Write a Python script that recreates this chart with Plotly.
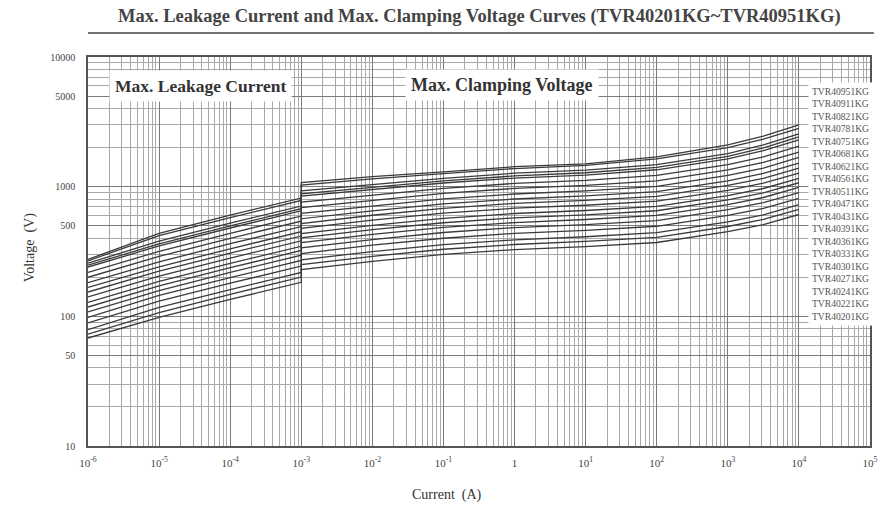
import plotly.graph_objects as go

# ---- data ----
leak_current = [1e-6, 1e-5, 1e-4, 1e-3]
clamp_current = [1e-3, 1e-2, 1e-1, 1, 10, 100, 1000, 3162, 1e4]

models = ["TVR40951KG", "TVR40911KG", "TVR40821KG", "TVR40781KG", "TVR40751KG",
          "TVR40681KG", "TVR40621KG", "TVR40561KG", "TVR40511KG", "TVR40471KG",
          "TVR40431KG", "TVR40391KG", "TVR40361KG", "TVR40331KG", "TVR40301KG",
          "TVR40271KG", "TVR40241KG", "TVR40221KG", "TVR40201KG"]

leak_voltage = {
    "TVR40951KG": [275, 437, 603, 817],
    "TVR40911KG": [268, 420, 578, 783],
    "TVR40821KG": [257, 380, 523, 709],
    "TVR40781KG": [248, 362, 499, 676],
    "TVR40751KG": [240, 349, 480, 651],
    "TVR40681KG": [218, 317, 437, 593],
    "TVR40621KG": [200, 290, 400, 542],
    "TVR40561KG": [182, 263, 363, 492],
    "TVR40511KG": [167, 241, 332, 450],
    "TVR40471KG": [154, 223, 307, 416],
    "TVR40431KG": [141, 204, 281, 382],
    "TVR40391KG": [128, 186, 256, 347],
    "TVR40361KG": [118, 172, 237, 322],
    "TVR40331KG": [108, 158, 218, 296],
    "TVR40301KG": [98, 145, 199, 270],
    "TVR40271KG": [89, 131, 180, 244],
    "TVR40241KG": [79, 117, 161, 218],
    "TVR40221KG": [73, 107, 148, 201],
    "TVR40201KG": [68, 98, 135, 183],
}

clamp_voltage = {
    "TVR40951KG": [1075, 1194, 1300, 1425, 1500, 1700, 2100, 2450, 3000],
    "TVR40911KG": [1030, 1150, 1260, 1380, 1460, 1640, 2000, 2330, 2820],
    "TVR40821KG": [930, 1040, 1160, 1270, 1340, 1480, 1800, 2100, 2550],
    "TVR40781KG": [880, 990, 1110, 1210, 1280, 1410, 1710, 1990, 2420],
    "TVR40751KG": [845, 950, 1067, 1163, 1227, 1350, 1640, 1900, 2300],
    "TVR40681KG": [760, 858, 971, 1059, 1117, 1220, 1480, 1700, 2050],
    "TVR40621KG": [690, 785, 889, 969, 1022, 1110, 1350, 1540, 1850],
    "TVR40561KG": [622, 712, 806, 878, 927, 1005, 1220, 1390, 1680],
    "TVR40511KG": [566, 651, 737, 803, 848, 915, 1110, 1265, 1520],
    "TVR40471KG": [520, 602, 681, 743, 784, 843, 1022, 1160, 1390],
    "TVR40431KG": [477, 553, 626, 682, 719, 774, 938, 1063, 1272],
    "TVR40391KG": [435, 503, 569, 621, 655, 704, 854, 968, 1158],
    "TVR40361KG": [403, 466, 527, 575, 607, 652, 791, 897, 1072],
    "TVR40331KG": [370, 428, 485, 529, 558, 600, 728, 825, 986],
    "TVR40301KG": [338, 391, 443, 483, 509, 548, 664, 753, 900],
    "TVR40271KG": [305, 354, 400, 436, 460, 495, 600, 680, 814],
    "TVR40241KG": [273, 316, 357, 389, 411, 442, 536, 607, 727],
    "TVR40221KG": [251, 290, 329, 358, 378, 407, 493, 559, 669],
    "TVR40201KG": [229, 265, 300, 327, 345, 371, 450, 510, 610],
}

x_tickvals = [1e-6, 1e-5, 1e-4, 1e-3, 1e-2, 1e-1, 1, 10, 100, 1000, 1e4, 1e5]
x_ticktext = ["10<sup>-6</sup>", "10<sup>-5</sup>", "10<sup>-4</sup>", "10<sup>-3</sup>",
              "10<sup>-2</sup>", "10<sup>-1</sup>", "1", "10<sup>1</sup>", "10<sup>2</sup>",
              "10<sup>3</sup>", "10<sup>4</sup>", "10<sup>5</sup>"]
y_tickvals = [10, 50, 100, 500, 1000, 5000, 10000]
y_ticktext = ["10", "50", "100", "500", "1000", "5000", "10000"]

title_text = "Max. Leakage Current and Max. Clamping Voltage Curves (TVR40201KG~TVR40951KG)"

# ---- figure ----
SERIF = "Liberation Serif"
fig = go.Figure()

for m in models:
    xs = leak_current + clamp_current
    ys = leak_voltage[m] + clamp_voltage[m]
    fig.add_trace(go.Scatter(x=xs, y=ys, mode="lines", name=m,
                             line=dict(color="#3a3a3a", width=1.3),
                             showlegend=False, hoverinfo="name+x+y"))

x_minor = [k * 10.0 ** e for e in range(-6, 5) for k in range(2, 10)]
y_minor = [k * 10.0 ** e for e in range(1, 4) for k in range(2, 10)]

fig.update_xaxes(type="log", range=[-6, 5], tickvals=x_tickvals, ticktext=x_ticktext,
                 showgrid=True, gridcolor="#7a7a7a", gridwidth=1,
                 minor=dict(tickvals=x_minor, showgrid=True, gridcolor="#a8a8a8",
                            gridwidth=1, ticks=""),
                 showline=True, linecolor="#555", linewidth=1.5, mirror=True,
                 ticks="", ticklabelstandoff=6, ticklabeloverflow="allow",
                 automargin=False,
                 tickfont=dict(family=SERIF, size=11, color="#444"),
                 zeroline=False)
fig.update_yaxes(type="log", range=[1, 4], tickvals=y_tickvals, ticktext=y_ticktext,
                 showgrid=True, gridcolor="#7a7a7a", gridwidth=1,
                 minor=dict(tickvals=y_minor, showgrid=True, gridcolor="#a8a8a8",
                            gridwidth=1, ticks=""),
                 showline=True, linecolor="#555", linewidth=1.5, mirror=True,
                 ticks="", ticklabelstandoff=9, automargin=False,
                 tickfont=dict(family=SERIF, size=10, color="#444"),
                 zeroline=False)

annotations = [
    dict(text="<b>Max. Leakage Current</b>", xref="paper", yref="paper", x=0.1445, y=0.925,
         xanchor="center", yanchor="middle",
         showarrow=False, bgcolor="white", borderpad=5,
         font=dict(family=SERIF, size=17.5, color="#333")),
    dict(text="<b>Max. Clamping Voltage</b>", xref="paper", yref="paper", x=0.529, y=0.928,
         xanchor="center", yanchor="middle",
         showarrow=False, bgcolor="white", borderpad=5,
         font=dict(family=SERIF, size=18, color="#333")),
    dict(text="<br>".join(models), xref="paper", yref="paper", x=0.962, y=0.622,
         xanchor="center", yanchor="middle",
         showarrow=False, bgcolor="white", borderpad=3, align="left",
         font=dict(family=SERIF, size=9.6, color="#555")),
    dict(text="Current  (A)", xref="paper", yref="paper", x=0.459, y=-0.126,
         xanchor="center", yanchor="middle", showarrow=False,
         font=dict(family=SERIF, size=14, color="#333")),
    dict(text="Voltage  (V)", xref="paper", yref="paper", x=-0.074, y=0.509,
         xanchor="center", yanchor="middle", showarrow=False, textangle=-90,
         font=dict(family=SERIF, size=14, color="#333")),
    dict(text="<b>" + title_text + "</b>", xref="paper", yref="paper", x=0.5, y=1.103,
         xanchor="center", yanchor="middle", showarrow=False,
         font=dict(family=SERIF, size=18.5, color="#444")),
]
fig.update_layout(annotations=annotations)

fig.add_shape(type="line", xref="paper", yref="paper", x0=0.0, x1=1.005, y0=1.062, y1=1.062,
              line=dict(color="#444", width=1.5))

fig.update_layout(width=883, height=506, margin=dict(l=88, r=13, t=57, b=60),
                  paper_bgcolor="white", plot_bgcolor="white")

fig.write_html("out.html", config={"displayModeBar": False},
               post_script="document.body.style.margin='0px';"
                           "document.body.style.overflow='hidden';")
